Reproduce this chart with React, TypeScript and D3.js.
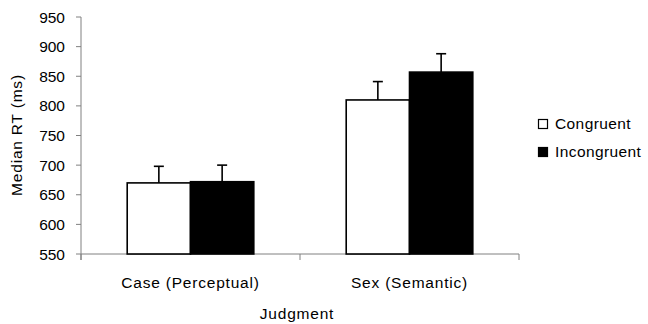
import React from 'react';
import * as d3 from 'd3';

const categories = ['Case (Perceptual)', 'Sex (Semantic)'];
const seriesNames = ['Congruent', 'Incongruent'];
const congruent = [670, 810];
const incongruent = [672, 857];
const congruentErr = [28, 31];
const incongruentErr = [28, 31];
const yTicks = [550, 600, 650, 700, 750, 800, 850, 900, 950];

const W = 648;
const H = 324;
const margin = { left: 81, right: 129, top: 17, bottom: 70 };
const fills = ['#ffffff', '#000000'];
const font = 'Liberation Sans, Arial, sans-serif';
const fs = 15.5;
const ls = 0.8;

const App = () => {
  const x = d3
    .scaleBand()
    .domain(categories)
    .range([margin.left, W - margin.right]);
  const inner = d3
    .scaleBand()
    .domain(seriesNames)
    .range([0, x.bandwidth()])
    .paddingOuter(0.73);
  const y = d3
    .scaleLinear()
    .domain([550, 950])
    .range([H - margin.bottom, margin.top]);

  const values = [congruent, incongruent];
  const errs = [congruentErr, incongruentErr];
  const base = y(550);

  return (
    <svg width={W} height={H} style={{ position: 'absolute', left: 0, top: 0, background: '#fff' }}>
      {/* y axis */}
      <line x1={margin.left} x2={margin.left} y1={y(950)} y2={base + 6} stroke="#808080" />
      {yTicks.map((t) => (
        <g key={t}>
          <line x1={margin.left - 5} x2={margin.left} y1={y(t)} y2={y(t)} stroke="#808080" />
          <text x={margin.left - 16} y={y(t)} dy="0.36em" textAnchor="end" fontFamily={font} fontSize={fs} fill="#000">
            {t}
          </text>
        </g>
      ))}
      {/* x axis */}
      <line x1={margin.left} x2={W - margin.right} y1={base} y2={base} stroke="#808080" />
      {[...categories.map((c) => x(c) as number), W - margin.right].map((p, i) => (
        <line key={i} x1={p} x2={p} y1={base} y2={base + 6} stroke="#808080" />
      ))}

      {/* bars */}
      {seriesNames.map((s, si) =>
        categories.map((c, ci) => {
          const bx = (x(c) as number) + (inner(s) as number);
          const bw = inner.bandwidth();
          const v = values[si][ci];
          const top = y(v);
          const cx = bx + bw / 2;
          const et = y(v + errs[si][ci]);
          return (
            <g key={s + c}>
              <line x1={cx} x2={cx} y1={top} y2={et} stroke="#000" strokeWidth={1.6} />
              <line x1={cx - 5} x2={cx + 5} y1={et} y2={et} stroke="#000" strokeWidth={1.6} />
              <rect x={bx} y={top} width={bw} height={base - top} fill={fills[si]} stroke="#000" strokeWidth={1.6} />
            </g>
          );
        })
      )}

      {/* category labels */}
      {categories.map((c) => (
        <text key={c} x={(x(c) as number) + x.bandwidth() / 2} y={288} textAnchor="middle" fontFamily={font} fontSize={fs} letterSpacing={ls} fill="#000">
          {c}
        </text>
      ))}
      <text x={297} y={319} textAnchor="middle" fontFamily={font} fontSize={fs} letterSpacing={ls} fill="#000">
        Judgment
      </text>
      <text transform={`translate(22,135) rotate(-90)`} textAnchor="middle" fontFamily={font} fontSize={fs} letterSpacing={ls} fill="#000">
        Median RT (ms)
      </text>

      {/* legend */}
      {seriesNames.map((s, i) => (
        <g key={s} transform={`translate(538,${119 + i * 28})`}>
          <rect x={0.5} y={0.5} width={9} height={9} fill={fills[i]} stroke="#000" strokeWidth={1.2} />
          <text x={17} y={10} fontFamily={font} fontSize={fs} letterSpacing={ls * 0.5} fill="#000">
            {s}
          </text>
        </g>
      ))}
    </svg>
  );
};

export default App;
